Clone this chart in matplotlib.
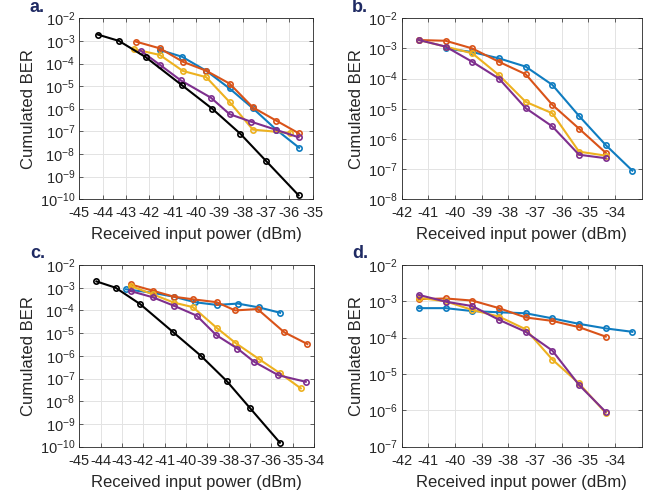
import numpy as np
import matplotlib
matplotlib.use('Agg')
import matplotlib.pyplot as plt

plt.rcParams['font.family'] = ['Liberation Sans', 'DejaVu Sans']
plt.rcParams['axes.unicode_minus'] = False

BLUE = '#0f7cc0'
ORANGE = '#D95319'
YELLOW = '#EDB120'
PURPLE = '#7E2F8E'
NAVY = '#1f2a63'

# reference (black) curve, same in a and c
ref_x = [-44.2, -43.3, -42.15, -40.6, -39.3, -38.1, -37.0, -35.6]
ref_ber = [1.9e-3, 1.0e-3, 1.9e-4, 1.1e-5, 1.0e-6, 7.9e-8, 5.0e-9, 1.5e-10]

# panel a
a_blue_x = [-41.55, -40.6, -39.56, -38.56, -37.56, -36.56, -35.58]
a_blue = [4.0e-4, 2.0e-4, 4.8e-5, 7.9e-6, 1.05e-6, 1.2e-7, 1.9e-8]
a_orange_x = [-42.57, -41.55, -40.56, -39.56, -38.56, -37.56, -36.56, -35.58]
a_orange = [9.3e-4, 4.7e-4, 1.2e-4, 4.8e-5, 1.3e-5, 1.15e-6, 3.0e-7, 8.1e-8]
a_yellow_x = [-42.65, -41.55, -40.56, -39.56, -38.56, -37.56, -35.96]
a_yellow = [4.3e-4, 2.4e-4, 4.7e-5, 2.5e-5, 2.0e-6, 1.2e-7, 8.5e-8]
a_purple_x = [-42.37, -41.54, -40.65, -39.36, -38.56, -37.64, -36.59, -35.6]
a_purple = [3.7e-4, 8.7e-5, 1.8e-5, 3.1e-6, 5.8e-7, 2.7e-7, 1.2e-7, 5.5e-8]

# panel b
b_x = [-41.35, -40.35, -39.35, -38.35, -37.35, -36.35, -35.35, -34.35, -33.35]
b_blue = [1.0e-3, 7.6e-4, 4.7e-4, 2.5e-4, 6.2e-5, 5.8e-6, 6.3e-7, 8.9e-8]
b_orange = [1.9e-3, 1.8e-3, 1.0e-3, 3.6e-4, 1.4e-4, 1.35e-5, 2.2e-6, 3.5e-7]
b_yellow = [1.9e-3, 1.15e-3, 6.9e-4, 1.3e-4, 1.7e-5, 7.1e-6, 3.8e-7, 2.8e-7]
b_purple = [1.9e-3, 1.15e-3, 3.6e-4, 1.0e-4, 1.05e-5, 2.6e-6, 3.0e-7, 2.3e-7]

# panel c
c_blue_x = [-42.81, -41.56, -40.56, -39.58, -38.56, -37.57, -36.57, -35.59]
c_blue = [8.5e-4, 6.0e-4, 4.0e-4, 2.3e-4, 1.75e-4, 2.0e-4, 1.35e-4, 7.9e-5]
c_orange_x = [-42.59, -41.56, -40.56, -39.68, -38.56, -37.7, -36.65, -35.4, -34.31]
c_orange = [1.4e-3, 7.4e-4, 4.0e-4, 3.1e-4, 2.3e-4, 1.0e-4, 1.15e-4, 1.1e-5, 3.3e-6]
c_yellow_x = [-42.59, -41.56, -40.56, -39.68, -38.56, -37.7, -36.57, -35.59, -34.62]
c_yellow = [1.2e-3, 5.1e-4, 2.2e-4, 1.4e-4, 1.7e-5, 3.8e-6, 7.1e-7, 1.7e-7, 3.7e-8]
c_purple_x = [-42.59, -41.56, -40.56, -39.5, -38.59, -37.59, -36.81, -35.67, -34.39]
c_purple = [7.1e-4, 3.8e-4, 1.6e-4, 5.9e-5, 8.3e-6, 2.1e-6, 5.5e-7, 1.4e-7, 7.2e-8]

# panel d
d_x = [-41.35, -40.35, -39.35, -38.35, -37.35, -36.35, -35.35, -34.35, -33.35]
d_blue = [6.5e-4, 6.5e-4, 5.4e-4, 5.0e-4, 4.7e-4, 3.4e-4, 2.4e-4, 1.8e-4, 1.45e-4]
d_orange = [1.15e-3, 1.2e-3, 1.05e-3, 6.5e-4, 3.6e-4, 2.9e-4, 1.95e-4, 1.07e-4]
d_yellow = [1.25e-3, 1.0e-3, 5.8e-4, 3.8e-4, 1.7e-4, 2.5e-5, 5.5e-6, 8.5e-7]
d_purple = [1.5e-3, 9.8e-4, 7.4e-4, 3.1e-4, 1.45e-4, 4.4e-5, 5.0e-6, 9.1e-7]


def curve(ax, x, y, color):
    ax.plot(x, y, '-o', color=color, lw=1.5, ms=3.8, mfc='none', mew=1.2)


def style(ax, xlim, xticks, ylo, yhi):
    ax.set_yscale('log')
    ax.set_xlim(*xlim)
    ax.set_ylim(10.0 ** ylo, 10.0 ** yhi)
    ax.set_xticks(xticks)
    ax.set_xticklabels([str(t) for t in xticks])
    exps = list(range(ylo, yhi + 1))
    ax.set_yticks([10.0 ** e for e in exps])
    ax.set_yticklabels([r'$\mathregular{10^{%d}}$' % e for e in exps])
    ax.yaxis.set_minor_locator(matplotlib.ticker.NullLocator())
    ax.grid(True, color='#e3e3e3', lw=0.7)
    ax.set_axisbelow(True)
    ax.tick_params(direction='in', top=True, right=True, labelsize=10.5,
                   colors='#262626', length=3, width=0.5)
    ax.tick_params(axis='x', pad=5)
    ax.tick_params(axis='y', pad=3)
    for s in ax.spines.values():
        s.set_color('#262626')
        s.set_linewidth(0.6)
    ax.set_xlabel('Received input power (dBm)', fontsize=12, color='#262626', labelpad=5)
    ax.set_ylabel('Cumulated BER', fontsize=12, color='#262626', labelpad=3)


fig = plt.figure(figsize=(6.54, 4.96), dpi=100)
ax_a = fig.add_axes([0.1213, 0.5982, 0.3567, 0.3649])
ax_b = fig.add_axes([0.6142, 0.5982, 0.3670, 0.3649])
ax_c = fig.add_axes([0.1213, 0.0994, 0.3589, 0.3663])
ax_d = fig.add_axes([0.6142, 0.0994, 0.3670, 0.3663])

curve(ax_a, a_blue_x, a_blue, BLUE)
curve(ax_a, a_orange_x, a_orange, ORANGE)
curve(ax_a, a_yellow_x, a_yellow, YELLOW)
curve(ax_a, a_purple_x, a_purple, PURPLE)
curve(ax_a, ref_x, ref_ber, 'black')
style(ax_a, (-45, -35), list(range(-45, -34)), -10, -2)

curve(ax_b, b_x[1:], b_blue, BLUE)
curve(ax_b, b_x[:8], b_orange, ORANGE)
curve(ax_b, b_x[:8], b_yellow, YELLOW)
curve(ax_b, b_x[:8], b_purple, PURPLE)
style(ax_b, (-42, -33), list(range(-42, -33)), -8, -2)

curve(ax_c, c_blue_x, c_blue, BLUE)
curve(ax_c, c_orange_x, c_orange, ORANGE)
curve(ax_c, c_yellow_x, c_yellow, YELLOW)
curve(ax_c, c_purple_x, c_purple, PURPLE)
curve(ax_c, ref_x, ref_ber, 'black')
style(ax_c, (-45, -34), list(range(-45, -33)), -10, -2)

curve(ax_d, d_x, d_blue, BLUE)
curve(ax_d, d_x[:8], d_orange, ORANGE)
curve(ax_d, d_x[:8], d_yellow, YELLOW)
curve(ax_d, d_x[:8], d_purple, PURPLE)
style(ax_d, (-42, -33), list(range(-42, -33)), -7, -2)

for letter, px, py in [('a.', 30, 8), ('b.', 352, 8), ('c.', 30, 254), ('d.', 352, 254)]:
    fig.text(px / 654, 1 - py / 496, letter, fontsize=13, fontweight='bold',
             color=NAVY, ha='left', va='center')

fig.savefig('out.png', dpi=100)
